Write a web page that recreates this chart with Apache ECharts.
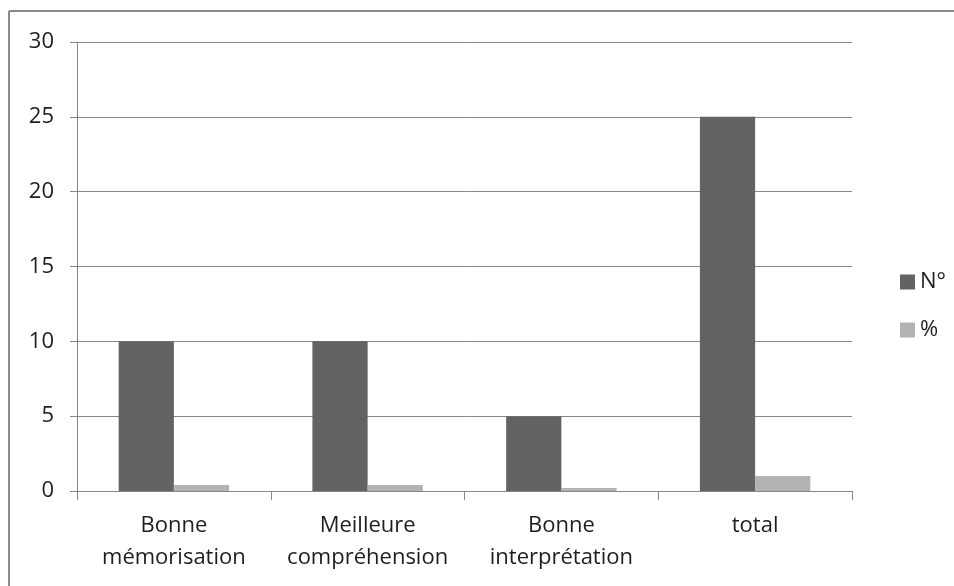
<!DOCTYPE html>
<html>
<head>
<meta charset="utf-8">
<script src="https://cdn.jsdelivr.net/npm/echarts@6/dist/echarts.min.js"></script>
<style>html,body{margin:0;padding:0;background:#fff}#c{width:954px;height:586px}</style>
</head>
<body>
<div id="c"></div>
<script>
const categories = ['Bonne\nmémorisation', 'Meilleure\ncompréhension', 'Bonne\ninterprétation', 'total'];
const seriesNames = ['N°', '%'];
const valuesN = [10, 10, 5, 25];
const valuesPct = [0.4, 0.4, 0.2, 1];
const yTicks = { min: 0, max: 30, interval: 5 };

const FONT = 'Open Sans';
const GRID_COLOR = '#878787';
const TEXT_COLOR = '#1e1e1e';
const chart = echarts.init(document.getElementById('c'), null, { renderer: 'canvas' });
chart.setOption({
  backgroundColor: '#fff',
  animation: false,
  textStyle: { fontFamily: FONT },
  graphic: [
    { type: 'line', shape: { x1: 9, y1: 11, x2: 954, y2: 11 }, style: { stroke: '#8a8a8a', lineWidth: 2 } },
    { type: 'line', shape: { x1: 9, y1: 11, x2: 9, y2: 586 }, style: { stroke: '#8a8a8a', lineWidth: 2 } }
  ],
  grid: { left: 77, right: 102, top: 42, bottom: 95, containLabel: false },
  legend: {
    orient: 'vertical',
    left: 895, top: 266,
    itemWidth: 15, itemHeight: 15, itemGap: 26,
    icon: 'rect',
    textStyle: { fontFamily: FONT, fontSize: 22, color: TEXT_COLOR, lineHeight: 22 },
    data: seriesNames
  },
  xAxis: {
    type: 'category',
    data: categories,
    axisLine: { lineStyle: { color: GRID_COLOR, width: 1 } },
    axisTick: { show: true, length: 9, lineStyle: { color: GRID_COLOR } },
    axisLabel: { fontFamily: FONT, fontSize: 22, color: TEXT_COLOR, lineHeight: 32, margin: 19, interval: 0 }
  },
  yAxis: {
    type: 'value',
    min: yTicks.min, max: yTicks.max, interval: yTicks.interval,
    axisLine: { show: true, lineStyle: { color: GRID_COLOR, width: 1 } },
    axisTick: { show: true, length: 7, lineStyle: { color: GRID_COLOR } },
    splitLine: { lineStyle: { color: GRID_COLOR, width: 1 } },
    axisLabel: { fontFamily: FONT, fontSize: 22, color: TEXT_COLOR, margin: 23 }
  },
  series: [
    { name: seriesNames[0], type: 'bar', data: valuesN, barGap: '0%', barCategoryGap: '43%', itemStyle: { color: '#636363' } },
    { name: seriesNames[1], type: 'bar', data: valuesPct, barGap: '0%', barCategoryGap: '43%', itemStyle: { color: '#b3b3b3' } }
  ]
});
</script>
</body>
</html>
